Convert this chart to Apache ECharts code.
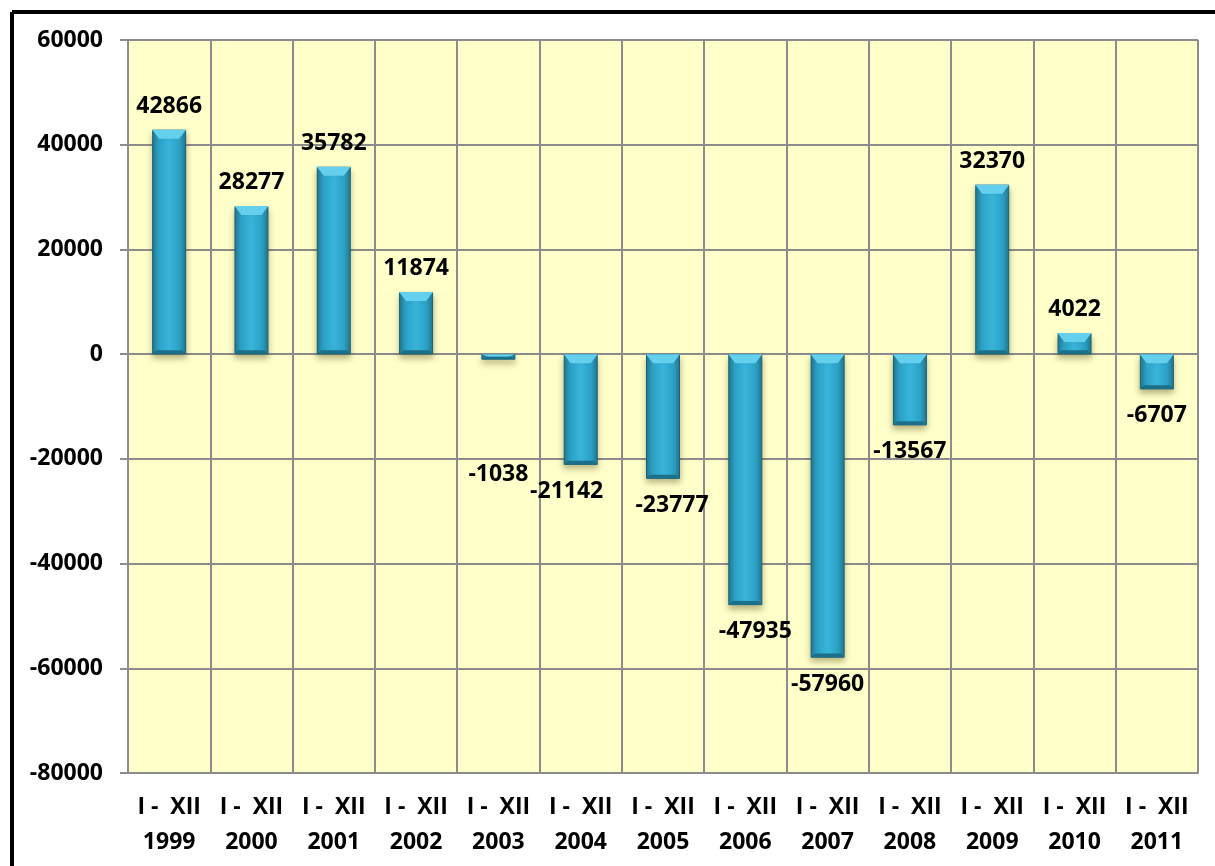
<!DOCTYPE html>
<html style="height: 100%">
  <head>
    <meta charset="utf-8" />
    <script src="https://cdn.jsdelivr.net/npm/echarts@6/dist/echarts.min.js"></script>
  </head>
  <body style="height: 100%; margin: 0; background: #fff">
    <div id="container" style="width: 1215px; height: 866px"></div>
    <script type="text/javascript">
      var years = ["1999", "2000", "2001", "2002", "2003", "2004", "2005",
        "2006", "2007", "2008", "2009", "2010", "2011"];
      var balance = [42866, 28277, 35782, 11874, -1038, -21142, -23777,
        -47935, -57960, -13567, 32370, 4022, -6707];
      var yTicks = { min: -80000, max: 60000, step: 20000 };

      // label nudges, the way they sit in the original picture
      var labelShift = [[0, 0], [0, 0], [0, 0], [0, 0], [0, 88], [-14, 0], [9, 0],
        [10, 0], [0, 0], [0, 0], [0, 0], [0, 0], [0, 0]];

      var dom = document.getElementById("container");
      var myChart = echarts.init(dom);
      var font = "'Open Sans', Lato, sans-serif";
      var grey = "#8c8c8c";
      var fs = 23;

      var barData = balance.map(function (v, i) {
        return {
          value: v,
          label: {
            position: v >= 0 ? "top" : "bottom",
            distance: v >= 0 ? 12 : 15,
            offset: labelShift[i]
          }
        };
      });

      var bodyColor = new echarts.graphic.LinearGradient(0, 0, 1, 0, [
        { offset: 0, color: "#1f7893" },
        { offset: 0.18, color: "#2ca0c4" },
        { offset: 0.5, color: "#38b4da" },
        { offset: 0.82, color: "#2ca0c4" },
        { offset: 1, color: "#1f7893" }
      ]);

      function bevel(params, api) {
        var x = api.coord([api.value(0), 0])[0];
        var yv = api.coord([api.value(0), api.value(1)])[1];
        var y0 = api.coord([api.value(0), 0])[1];
        var top = Math.min(yv, y0), bot = Math.max(yv, y0);
        var half = 17;
        var h = Math.min(9, (bot - top) / 2);
        return {
          type: "group",
          children: [
            {
              type: "polygon",
              shape: { points: [[x - half, top], [x + half, top], [x + half - 7, top + h], [x - half + 7, top + h]] },
              style: { fill: "#64d0ee" }
            },
            {
              type: "polygon",
              shape: { points: [[x - half, bot], [x + half, bot], [x + half - 4, bot - Math.min(4, h)], [x - half + 4, bot - Math.min(4, h)]] },
              style: { fill: "#1c6f88" }
            }
          ]
        };
      }

      var option = {
        animation: false,
        textStyle: { fontFamily: font },
        graphic: [
          { type: "line", shape: { x1: 12, y1: 12, x2: 1215, y2: 12 }, style: { stroke: "#000", lineWidth: 4 } },
          { type: "line", shape: { x1: 12, y1: 12, x2: 12, y2: 866 }, style: { stroke: "#000", lineWidth: 4 } }
        ],
        grid: {
          left: 128, right: 17, top: 40, bottom: 93,
          show: true, backgroundColor: "#ffffc9", borderWidth: 0
        },
        xAxis: {
          type: "category",
          data: years,
          axisLine: { onZero: false, lineStyle: { color: grey, width: 2 } },
          axisTick: { show: false },
          splitLine: { show: true, lineStyle: { color: grey, width: 2 } },
          axisLabel: {
            interval: 0,
            margin: 17,
            color: "#000",
            fontWeight: "bold",
            fontSize: fs,
            lineHeight: 35,
            fontFamily: font,
            formatter: function (y) { return "I -  XII\n" + y; }
          }
        },
        yAxis: {
          type: "value",
          min: yTicks.min,
          max: yTicks.max,
          interval: yTicks.step,
          axisLine: { show: true, lineStyle: { color: grey, width: 2 } },
          axisTick: { show: true, length: 8, lineStyle: { color: grey, width: 2 } },
          splitLine: { lineStyle: { color: grey, width: 2 } },
          axisLabel: {
            margin: 25, color: "#000", fontWeight: "bold", fontSize: fs, fontFamily: font,
            formatter: function (v) { return String(v); }
          }
        },
        series: [
          {
            type: "bar",
            data: barData,
            barWidth: 34,
            itemStyle: {
              color: bodyColor,
              borderColor: "#1a6075",
              borderWidth: 1,
              shadowColor: "rgba(60,50,0,0.35)",
              shadowBlur: 6,
              shadowOffsetY: 4
            },
            label: {
              show: true,
              color: "#000",
              fontWeight: "bold",
              fontSize: fs,
              fontFamily: font
            }
          },
          {
            type: "custom",
            silent: true,
            z: 3,
            renderItem: bevel,
            data: balance.map(function (v, i) { return [i, v]; })
          }
        ]
      };

      myChart.setOption(option);
    </script>
  </body>
</html>
